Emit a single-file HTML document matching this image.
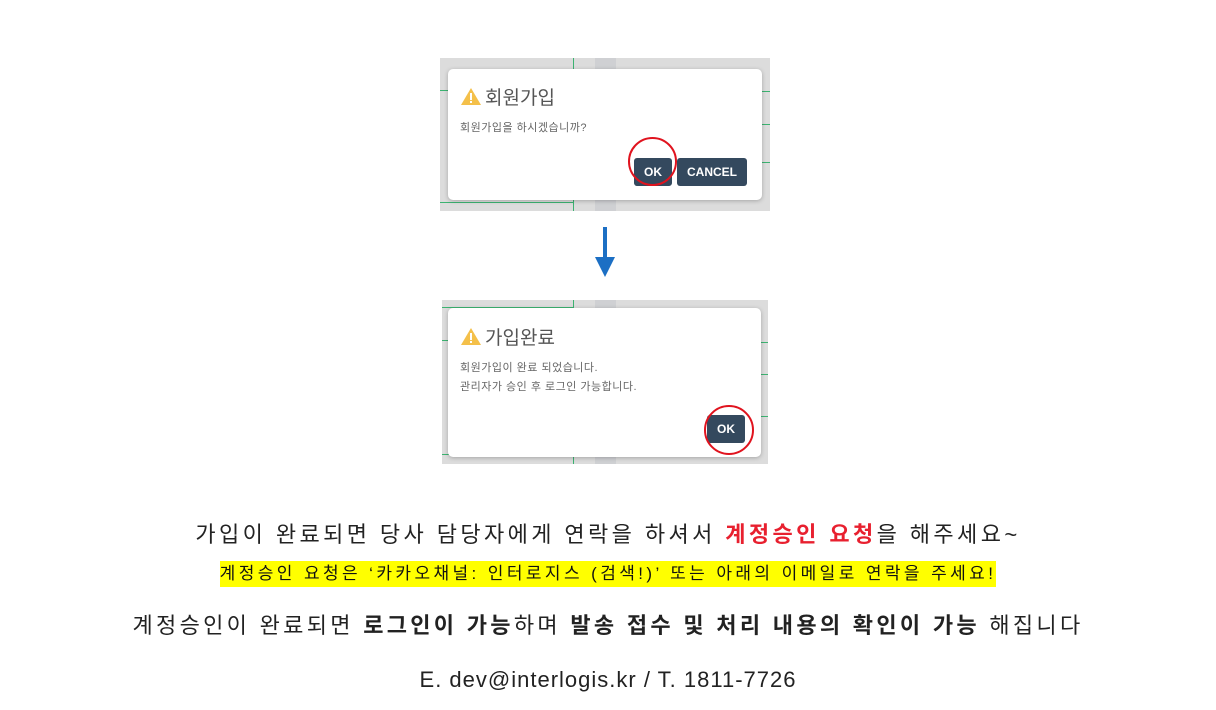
<!DOCTYPE html>
<html><head><meta charset="utf-8"><style>
body{margin:0;width:1216px;height:710px;background:#fff;position:relative;overflow:hidden;font-family:"Liberation Sans","Noto Sans CJK KR",sans-serif;}
.shot{position:absolute;background:#dcdcdc;overflow:hidden}
.band{position:absolute;top:0;bottom:0;background:#cfd0d3}
.g{position:absolute;background:#3cb371}
.dlg{position:absolute;background:#fff;border-radius:5px;box-shadow:0 1px 4px rgba(0,0,0,.25)}
.ttl{position:absolute;left:12px;font-size:19px;color:#555;}
.tri{display:inline-block;vertical-align:-2px;margin-right:3px}
.msg{position:absolute;left:12px;font-size:11px;color:#666;line-height:19px;letter-spacing:.5px}
.btn{position:absolute;background:#34495e;color:#fff;font-weight:bold;font-size:12px;border-radius:3px;text-align:center;line-height:28px}
.circ{position:absolute;border:2px solid #e0131e;border-radius:50%}
.t{position:absolute;left:0;width:1216px;text-align:center;color:#222;white-space:nowrap}
</style></head><body>

<div class="shot" style="left:440px;top:58px;width:330px;height:153px">
 <div class="band" style="left:155px;width:21px"></div>
 <div class="g" style="left:133px;top:0;width:1px;height:153px"></div>
 <div class="g" style="left:0;top:32px;width:12px;height:1px"></div>
 <div class="g" style="left:0;top:144px;width:133px;height:1px"></div>
 <div class="g" style="left:318px;top:33px;width:12px;height:1px"></div>
 <div class="g" style="left:318px;top:66px;width:12px;height:1px"></div>
 <div class="g" style="left:318px;top:104px;width:12px;height:1px"></div>
 <div class="dlg" style="left:8px;top:11px;width:314px;height:131px">
  <div class="ttl" style="top:14px"><svg class="tri" width="22" height="19" viewBox="0 0 22 19"><path d="M11 1L21 18H1Z" fill="#f4c04a"/><rect x="10" y="6" width="2" height="7" fill="#fff"/><rect x="10" y="14" width="2" height="2" fill="#fff"/></svg>회원가입</div>
  <div class="msg" style="top:50px">회원가입을 하시겠습니까?</div>
  <div class="btn" style="left:186px;top:89px;width:38px">OK</div>
  <div class="btn" style="left:229px;top:89px;width:70px">CANCEL</div>
 </div>
 <div class="circ" style="left:188px;top:79px;width:45px;height:45px"></div>
</div>

<svg style="position:absolute;left:594px;top:227px" width="22" height="52"><rect x="9" y="0" width="4" height="34" fill="#1c6fc4"/><path d="M1 30H21L11 50Z" fill="#1c6fc4"/></svg>

<div class="shot" style="left:442px;top:300px;width:326px;height:164px">
 <div class="band" style="left:153px;width:21px"></div>
 <div class="g" style="left:131px;top:0;width:1px;height:164px"></div>
 <div class="g" style="left:0;top:7px;width:131px;height:1px"></div>
 <div class="g" style="left:0;top:40px;width:10px;height:1px"></div>
 <div class="g" style="left:0;top:154px;width:10px;height:1px"></div>
 <div class="g" style="left:316px;top:42px;width:10px;height:1px"></div>
 <div class="g" style="left:316px;top:74px;width:10px;height:1px"></div>
 <div class="g" style="left:316px;top:116px;width:10px;height:1px"></div>
 <div class="dlg" style="left:6px;top:8px;width:313px;height:149px">
  <div class="ttl" style="top:15px"><svg class="tri" width="22" height="19" viewBox="0 0 22 19"><path d="M11 1L21 18H1Z" fill="#f4c04a"/><rect x="10" y="6" width="2" height="7" fill="#fff"/><rect x="10" y="14" width="2" height="2" fill="#fff"/></svg>가입완료</div>
  <div class="msg" style="top:51px">회원가입이 완료 되었습니다.<br>관리자가 승인 후 로그인 가능합니다.</div>
  <div class="btn" style="left:259px;top:107px;width:38px">OK</div>
 </div>
 <div class="circ" style="left:262px;top:105px;width:46px;height:46px"></div>
</div>

<div class="t" style="top:517px;font-size:22px;letter-spacing:3.4px">가입이 완료되면 당사 담당자에게 연락을 하셔서 <b style="color:#e8202f">계정승인 요청</b>을 해주세요~</div>
<div class="t" style="top:561px;font-size:17px;letter-spacing:3.4px"><span style="background:#ffff00;line-height:26px;display:inline-block;color:#111">계정승인 요청은 ‘카카오채널: 인터로지스 (검색!)’ 또는 아래의 이메일로 연락을 주세요!</span></div>
<div class="t" style="top:608px;font-size:22px;letter-spacing:3.3px">계정승인이 완료되면 <b>로그인이 가능</b>하며 <b>발송 접수 및 처리 내용의 확인이 가능</b> 해집니다</div>
<div class="t" style="top:667px;font-size:22px;letter-spacing:1px">E. dev@interlogis.kr / T. 1811-7726</div>
</body></html>
